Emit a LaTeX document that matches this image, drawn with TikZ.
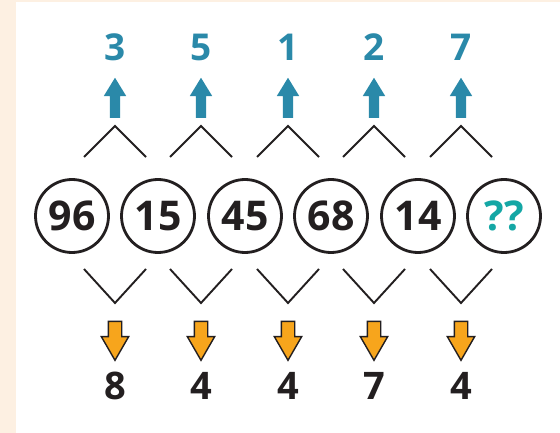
\documentclass[tikz,border=0pt]{standalone}
\usepackage{fontspec}
\setmainfont{Open Sans}
\usepackage{tikz}
\usetikzlibrary{shapes.arrows}
\definecolor{cream}{HTML}{FDF0E2}
\definecolor{inkdark}{HTML}{231F20}
\definecolor{upteal}{HTML}{2A89A9}
\definecolor{qteal}{HTML}{14A7A5}
\definecolor{downorange}{HTML}{F7A51C}
\tikzset{
  num/.style={circle, draw=inkdark, line width=2.8pt, minimum size=73pt, inner sep=0pt,
    font=\fontsize{41}{44}\selectfont\bfseries, text=inkdark},
  topnum/.style={font=\fontsize{37}{40}\selectfont\bfseries, text=upteal, inner sep=0pt},
  botnum/.style={font=\fontsize{38}{40}\selectfont\bfseries, text=inkdark, inner sep=0pt},
  uparrow/.style={single arrow, rotate=90, fill=upteal, inner xsep=0pt, inner ysep=5pt,
    minimum height=40pt, minimum width=0pt, single arrow head extend=6pt,
    single arrow tip angle=63},
  downarrow/.style={single arrow, rotate=-90, fill=downorange, draw=inkdark, line width=1.4pt,
    inner xsep=0pt, inner ysep=6pt, minimum height=39pt, minimum width=0pt,
    single arrow head extend=7pt, single arrow tip angle=60},
  vee/.style={draw=inkdark, line width=1.9pt}
}
\begin{document}
\begin{tikzpicture}[x=1pt,y=-1pt]
\useasboundingbox (0,0) rectangle (560,433);
\fill[cream] (0,0) rectangle (560,433);
\fill[white] (16,2) rectangle (560,433);

% the six numbers
\node[num](c1) at (72,216){96};
\node[num](c2) at (158,216){15};
\node[num](c3) at (245,216){45};
\node[num](c4) at (331,216){68};
\node[num](c5) at (418,216){14};
\node[num, text=qteal](c6) at (504,216){??};

% top row
\node[topnum](t1) at (115,47){3};
\node[topnum](t2) at (201,47){5};
\node[topnum](t3) at (288,47){1};
\node[topnum](t4) at (374,47){2};
\node[topnum](t5) at (461,47){7};
\node[uparrow](u1) at (115,102){};
\node[uparrow](u2) at (201,102){};
\node[uparrow](u3) at (288,102){};
\node[uparrow](u4) at (374,102){};
\node[uparrow](u5) at (461,102){};
\draw[vee] (84,157) -- (115,126) -- (146,157);
\draw[vee] (170,157) -- (201,126) -- (232,157);
\draw[vee] (257,157) -- (288,126) -- (319,157);
\draw[vee] (343,157) -- (374,126) -- (405,157);
\draw[vee] (430,157) -- (461,126) -- (492,157);

% bottom row
\draw[vee] (84,269) -- (115,303) -- (146,269);
\draw[vee] (170,269) -- (201,303) -- (232,269);
\draw[vee] (257,269) -- (288,303) -- (319,269);
\draw[vee] (343,269) -- (374,303) -- (405,269);
\draw[vee] (430,269) -- (461,303) -- (492,269);
\node[downarrow](d1) at (115,335){};
\node[downarrow](d2) at (201,335){};
\node[downarrow](d3) at (288,335){};
\node[downarrow](d4) at (374,335){};
\node[downarrow](d5) at (461,335){};
\node[botnum](b1) at (115,386){8};
\node[botnum](b2) at (201,386){4};
\node[botnum](b3) at (288,386){4};
\node[botnum](b4) at (374,386){7};
\node[botnum](b5) at (461,386){4};
\end{tikzpicture}
\end{document}
